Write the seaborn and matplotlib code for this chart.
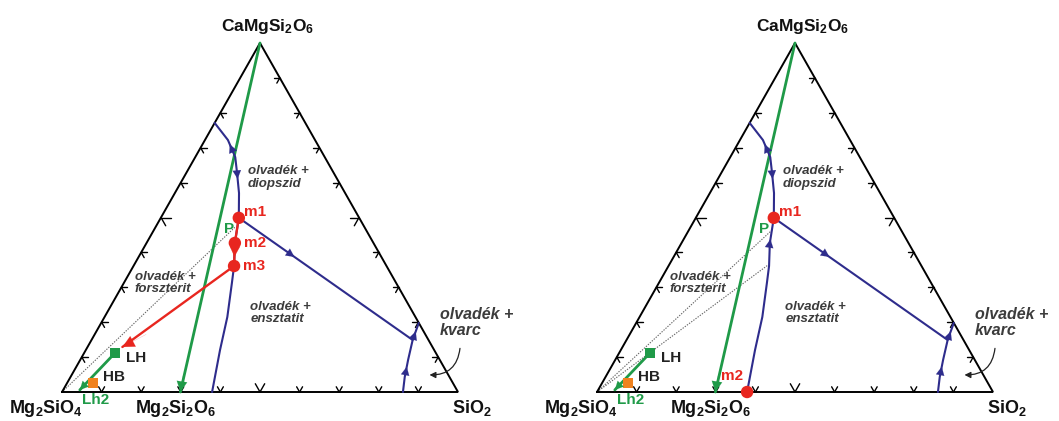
import matplotlib
matplotlib.use("Agg")
import matplotlib.pyplot as plt
import numpy as np
import pandas as pd
import seaborn as sns

# compositions in wt% (SiO2, CaMgSi2O6); the rest is Mg2SiO4
di_cotectic_si = [0.0, 5.8, 10.1, 12.8, 16.2, 19.7]
di_cotectic_di = [77.1, 72.2, 67.3, 62.8, 57.0, 49.9]
en_cotectic_si = [19.7, 22.3, 25.4, 27.3, 31.0, 33.9, 37.9]
en_cotectic_di = [49.9, 42.7, 36.1, 31.2, 21.5, 12.0, 0.0]
di_en_si = [19.7, 81.1]
di_en_di = [49.9, 14.9]
qz_cotectic_si = [80.2, 81.1, 82.8, 84.4, 86.1]
qz_cotectic_di = [19.8, 14.9, 9.2, 4.3, 0.0]
join_si = [0.0, 29.9]          # CaMgSi2O6 - Mg2Si2O6 join
join_di = [100.0, 0.0]

melt_names = ["m1", "m2", "m3"]
melt_si = [19.7, 22.3, 25.4]
melt_di = [49.9, 42.7, 36.1]
m2_right = (37.9, 0.0)

lh = (7.8, 11.2)
hb = (6.5, 2.6)
lh2 = (4.2, 0.6)
red_tip = (8.8, 12.9)
tie_left = [(20.1, 47.3)]
tie_right = [(21.0, 46.4), (25.0, 36.4)]

tick_steps = [0.1, 0.2, 0.3, 0.4, 0.5, 0.6, 0.7, 0.8, 0.9]

GREEN = "#1f9a48"
BLUE = "#2e2c8c"
RED = "#e8261f"
ORANGE = "#f0821e"
GREY = "#3c3c3c"
SX, SY = 396.0, 349.0   # px per unit of triangle width / height


def tri(si, di):
    si = np.asarray(si, float)
    di = np.asarray(di, float)
    return si / 100 + di / 200, di / 100


def curve(ax, si, di, color, lw, z=3):
    x, y = tri(si, di)
    df = pd.DataFrame({"x": x, "y": y})
    sns.lineplot(data=df, x="x", y="y", sort=False, estimator=None, color=color,
                 lw=lw, ax=ax, zorder=z)


def head(ax, tail, tip, color, size=9):
    ax.annotate("", xy=tip, xytext=tail, zorder=6,
                arrowprops=dict(arrowstyle="-|>,head_length=0.5,head_width=0.25",
                                color=color, lw=0.1,
                                mutation_scale=size, shrinkA=0, shrinkB=0))


def head_on(ax, si, di, i, j, frac, color, size=12):
    x, y = tri(si, di)
    a = np.array([x[i], y[i]])
    b = np.array([x[j], y[j]])
    tip = a + frac * (b - a)
    d = (b - a) / np.hypot((b - a)[0] * SX, (b - a)[1] * SY)
    tail = tip - d * 10
    head(ax, tuple(tail), tuple(tip), color, size)


sns.set_theme(style="white")
plt.rcParams["font.family"] = ["Liberation Sans", "DejaVu Sans"]
plt.rcParams["mathtext.fontset"] = "custom"
plt.rcParams["mathtext.rm"] = "Liberation Sans:bold"
plt.rcParams["mathtext.it"] = "Liberation Sans:bold"
plt.rcParams["mathtext.bf"] = "Liberation Sans:bold"

fig = plt.figure(figsize=(10.59, 4.21), dpi=100)
panels = [(0, 62), (529, 68)]

for k, (left_px, off) in enumerate(panels):
    w = 529 if k == 0 else 530
    ax = fig.add_axes([left_px / 1059, 0, w / 1059, 1])
    ax.set_xlim(-off / SX, (w - off) / SX)
    ax.set_ylim(-29 / SY, 392 / SY)
    ax.axis("off")

    # triangle frame
    ax.plot([0, 1, 0.5, 0], [0, 0, 1, 0], color="black", lw=1.4, zorder=2,
            solid_joinstyle="miter")

    # chevron ticks along the edges
    s = 1 / np.hypot(198, 349)
    edges = [
        (lambda t: (t, 0.0), [(198 * s, 349 * s), (-198 * s, 349 * s)]),
        (lambda t: (t / 2, t), [(1.0, 0.0), (198 * s, -349 * s)]),
        (lambda t: (1 - t / 2, t), [(-1.0, 0.0), (-198 * s, -349 * s)]),
    ]
    for pos, arms in edges:
        for t in tick_steps:
            if pos(t) == (0.45, 0.9):
                continue
            px, py = pos(t)
            L = 9.5 if t == 0.5 else 6
            for ux, uy in arms:
                ax.plot([px, px + L * ux / SX], [py, py + L * uy / SY],
                        color="black", lw=1.0, zorder=2)

    # tie lines (dotted)
    ties = tie_left if k == 0 else tie_right
    for si, di in ties:
        x, y = tri([0, si], [0, di])
        ax.plot(x, y, color="#666666", lw=0.8, ls=(0, (1.2, 1.2)), zorder=1)

    # join line
    curve(ax, join_si, join_di, GREEN, 2.0, z=3)
    jx, jy = tri(join_si, join_di)
    head(ax, (jx[1] + 0.006, jy[1] + 0.045), (jx[1], jy[1]), GREEN, 15)

    # cotectic / boundary curves
    curve(ax, di_cotectic_si, di_cotectic_di, BLUE, 1.5)
    curve(ax, en_cotectic_si, en_cotectic_di, BLUE, 1.5)
    curve(ax, di_en_si, di_en_di, BLUE, 1.5)
    curve(ax, qz_cotectic_si, qz_cotectic_di, BLUE, 1.5)
    head_on(ax, di_cotectic_si, di_cotectic_di, 2, 1, 0.75, BLUE)
    head_on(ax, di_cotectic_si, di_cotectic_di, 3, 4, 0.3, BLUE)
    head_on(ax, di_en_si, di_en_di, 0, 1, 0.32, BLUE)
    head_on(ax, qz_cotectic_si, qz_cotectic_di, 1, 0, 0.5, BLUE)
    head_on(ax, qz_cotectic_si, qz_cotectic_di, 3, 2, 0.6, BLUE)

    # LH -> Lh2 path, HB
    x, y = tri([lh[0], lh2[0]], [lh[1], lh2[1]])
    ax.plot(x, y, color=GREEN, lw=2.0, zorder=4)
    head(ax, (x[0] + 0.8 * (x[1] - x[0]), y[0] + 0.8 * (y[1] - y[0])), (x[1], y[1]), GREEN, 12)
    hx, hy = tri([hb[0]], [hb[1]])
    sns.scatterplot(x=hx, y=hy, marker="s", s=60, color=ORANGE, edgecolor="none",
                    ax=ax, zorder=5)
    lx, ly = tri([lh[0]], [lh[1]])
    sns.scatterplot(x=lx, y=ly, marker="s", s=60, color=GREEN, edgecolor="none",
                    ax=ax, zorder=5)

    if k == 0:
        mx, my = tri(melt_si, melt_di)
        ax.plot(mx, my, color=RED, lw=1.7, zorder=5)
        head(ax, (mx[1], my[1] - 0.01), (mx[1] + 0.5 * (mx[2] - mx[1]), my[1] + 0.6 * (my[2] - my[1])), RED, 14)
        tx, ty = tri([melt_si[2], red_tip[0]], [melt_di[2], red_tip[1]])
        ax.plot(tx, ty, color=RED, lw=1.7, zorder=5)
        head(ax, (tx[1] + 0.06, ty[1] + 0.036), (tx[1], ty[1]), RED, 17)
        sns.scatterplot(x=mx, y=my, s=80, color=RED, edgecolor="none", ax=ax, zorder=7)
        for name, xx, yy in zip(melt_names, mx, my):
            dx = 0.014 if name == "m1" else 0.022
            ax.text(xx + dx, yy + (0.017 if name == "m1" else 0), name, color=RED,
                    fontsize=11, fontweight="bold", ha="left", va="center", zorder=8)
    else:
        head_on(ax, en_cotectic_si, en_cotectic_di, 1, 0, 0.15, BLUE)
        mx, my = tri([melt_si[0], m2_right[0]], [melt_di[0], m2_right[1]])
        sns.scatterplot(x=mx, y=my, s=80, color=RED, edgecolor="none", ax=ax, zorder=7)
        ax.text(mx[0] + 0.014, my[0] + 0.017, "m1", color=RED, fontsize=11,
                fontweight="bold", ha="left", va="center", zorder=8)
        ax.text(mx[1] - 0.01, my[1] + 0.045, "m2", color=RED, fontsize=11,
                fontweight="bold", ha="right", va="center", zorder=8)

    # point labels
    ax.text(0.422, 0.467, "P", color=GREEN, fontsize=11, fontweight="bold",
            ha="center", va="center")
    ax.text(0.162, 0.098, "LH", color="#222222", fontsize=11, fontweight="bold",
            ha="left", va="center")
    ax.text(0.104, 0.043, "HB", color="#222222", fontsize=11, fontweight="bold",
            ha="left", va="center")
    ax.text(0.05, -0.022, "Lh2", color=GREEN, fontsize=11, fontweight="bold",
            ha="left", va="center")

    # phase field labels
    for tx_, ty_, txt in [(0.47, 0.614, "olvadék +\ndiopszid"),
                          (0.184, 0.312, "olvadék +\nforszterit"),
                          (0.475, 0.226, "olvadék +\nensztatit")]:
        ax.text(tx_, ty_, txt, color=GREY, fontsize=9.5, fontweight="bold",
                fontstyle="italic", ha="left", va="center", linespacing=1.05)
    ax.text(0.955, 0.198, "olvadék +\nkvarc", color=GREY, fontsize=11.5,
            fontweight="bold", fontstyle="italic", ha="left", va="center",
            linespacing=1.1)
    ax.annotate("", xy=(0.928, 0.049), xytext=(1.005, 0.125),
                arrowprops=dict(arrowstyle="-|>", color="#222222", lw=0.9,
                                mutation_scale=9, shrinkA=0, shrinkB=0,
                                connectionstyle="arc3,rad=-0.45"))

    # corner labels
    ax.text(0.52, 1.046, "CaMgSi$_2$O$_6$", fontsize=12.5, fontweight="bold",
            ha="center", va="center", color="#111111")
    ax.text(-0.04, -0.046, "Mg$_2$SiO$_4$", fontsize=13, fontweight="bold",
            ha="center", va="center", color="#111111")
    ax.text(0.288, -0.046, "Mg$_2$Si$_2$O$_6$", fontsize=13, fontweight="bold",
            ha="center", va="center", color="#111111")
    ax.text(1.035, -0.046, "SiO$_2$", fontsize=13, fontweight="bold",
            ha="center", va="center", color="#111111")

fig.savefig("out.png", dpi=100)
